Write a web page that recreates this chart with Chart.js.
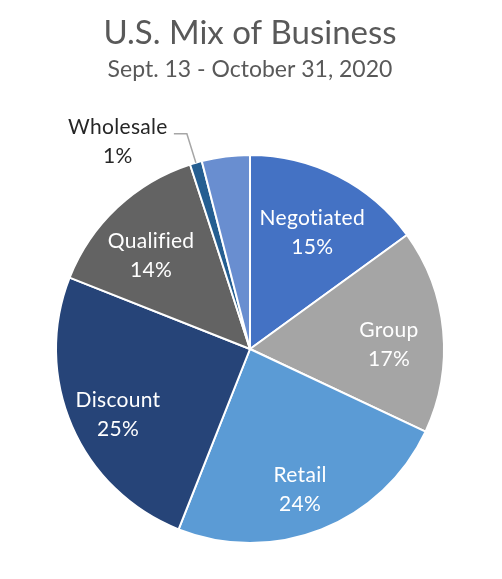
<!DOCTYPE html>
<html>
<head>
<meta charset="utf-8">
<script src="https://cdn.jsdelivr.net/npm/chart.js@4"></script>
<style>
  html, body { margin: 0; padding: 0; background: #fff; }
  #wrap { width: 502px; height: 579px; }
</style>
</head>
<body>
<div id="wrap"><canvas id="graficoMix"></canvas></div>
<script>
const categorias = ['Negotiated', 'Group', 'Retail', 'Discount', 'Qualified', 'Wholesale', 'Other'];
const percentuais = [15, 17, 24, 25, 14, 1, 4];
const cores = ['#4472C4', '#A5A5A5', '#5B9BD5', '#264478', '#636363', '#255E91', '#698ED0'];
const mostrarRotulo = [true, true, true, true, true, true, false];

const fonte = 'Lato, "Open Sans", sans-serif';

// rotulos dentro das fatias, e por fora com linha guia nas fatias pequenas
const rotulosPizza = {
  id: 'rotulosPizza',
  afterDatasetsDraw(chart) {
    const ctx = chart.ctx;
    const meta = chart.getDatasetMeta(0);
    ctx.save();
    ctx.font = '21px ' + fonte;
    ctx.letterSpacing = '0.3px'; // sem ligaduras "ti"
    ctx.textAlign = 'center';
    ctx.textBaseline = 'middle';
    meta.data.forEach((arco, i) => {
      if (!mostrarRotulo[i]) return;
      const p = arco.getProps(['x', 'y', 'startAngle', 'endAngle', 'outerRadius']);
      const meio = (p.startAngle + p.endAngle) / 2;
      const texto = percentuais[i] + '%';
      if (percentuais[i] >= 3) {
        const r = p.outerRadius * 0.73;
        const lx = p.x + Math.cos(meio) * r - 2;
        const ly = p.y + Math.sin(meio) * r + 9;
        ctx.fillStyle = '#ffffff';
        ctx.fillText(categorias[i], lx, ly - 14);
        ctx.fillText(texto, lx, ly + 15);
      } else {
        const bx = p.x + Math.cos(meio) * p.outerRadius;
        const by = p.y + Math.sin(meio) * p.outerRadius;
        const cx = bx - 9;
        const cy = by - 29;
        ctx.strokeStyle = '#A6A6A6';
        ctx.lineWidth = 1.5;
        ctx.beginPath();
        ctx.moveTo(bx, by);
        ctx.lineTo(cx, cy);
        ctx.lineTo(cx - 13, cy);
        ctx.stroke();
        ctx.fillStyle = '#262626';
        const tx = cx - 69;
        ctx.fillText(categorias[i], tx, cy - 6);
        ctx.fillText(texto, tx, cy + 23);
      }
    });
    ctx.restore();
  }
};

const $graficoMix = document.getElementById('graficoMix');

const graficoMix = new Chart($graficoMix, {
  type: 'pie',
  data: {
    labels: categorias,
    datasets: [{
      data: percentuais,
      backgroundColor: cores,
      borderColor: '#ffffff',
      borderWidth: 2
    }]
  },
  options: {
    responsive: true,
    maintainAspectRatio: false,
    animation: false,
    layout: { padding: { top: 0, bottom: 35, left: 0, right: 2 } },
    plugins: {
      legend: { display: false },
      tooltip: { enabled: false },
      title: {
        display: true,
        text: 'U.S. Mix of Business',
        color: '#595959',
        font: { family: fonte, size: 33, weight: 'normal' },
        padding: { top: 14, bottom: 0 }
      },
      subtitle: {
        display: true,
        text: 'Sept. 13 - October 31, 2020',
        color: '#595959',
        font: { family: fonte, size: 23, weight: 'normal' },
        padding: { top: 2.6, bottom: 70.2 }
      }
    }
  },
  plugins: [rotulosPizza]
});
</script>
</body>
</html>
